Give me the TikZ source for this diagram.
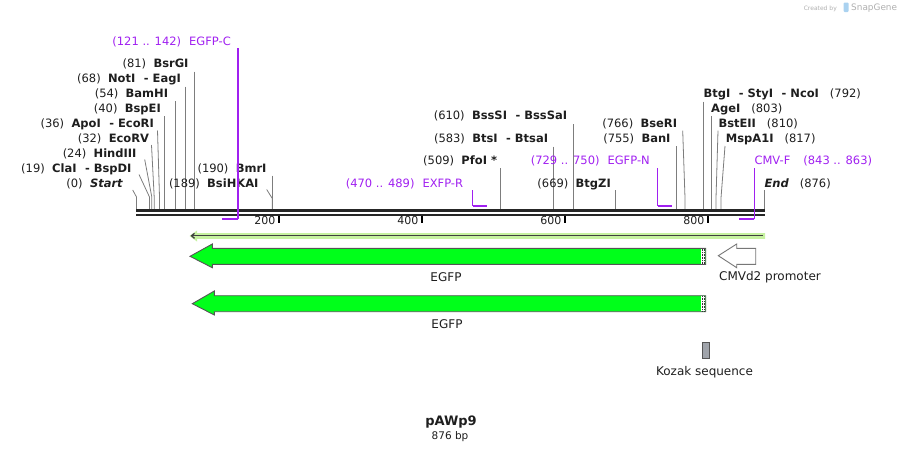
\documentclass[tikz,border=0pt]{standalone}
\usepackage{fontspec}
\setmainfont{DejaVu Sans}
\usetikzlibrary{arrows.meta}
\definecolor{prim}{RGB}{160,32,240}
\definecolor{gfp}{RGB}{0,255,26}
\definecolor{band}{RGB}{198,242,160}
\definecolor{outl}{RGB}{85,85,85}
\definecolor{koz}{RGB}{160,164,171}
\definecolor{stem}{RGB}{125,125,125}
\definecolor{numc}{RGB}{30,30,30}
\definecolor{wmark}{RGB}{175,175,175}
\definecolor{wicon}{RGB}{170,210,240}
\newcommand{\hy}{\hspace{8.5pt}- }
\tikzset{
 lab/.style={inner sep=0pt, font=\fontsize{11.5}{13}\selectfont, text=numc},
 plab/.style={inner sep=0pt, font=\fontsize{11.5}{13}\selectfont, text=prim},
 flab/.style={inner sep=0pt, font=\fontsize{12}{14}\selectfont, text=numc},
 cut/.style={draw=stem, line width=0.8pt},
 primv/.style={draw=prim, line width=1.4pt},
 primh/.style={draw=prim, line width=2.2pt},
 bb/.style={draw=black!85, line width=2.4pt},
 tickmark/.style={draw=black, line width=2pt},
 feat/.style={draw=outl, line width=0.9pt, fill=gfp},
}
% #1 name, #2 label x, #3 label y, #4 anchor, #5 text, #6 start, #7 bend, #8 foot x
\newcommand{\mysite}[8]{%
 \node[lab, anchor=#4] (l#1) at (#2,#3) {#5};
 \coordinate (s#1) at (#6);
 \coordinate (b#1) at (#7);
 \coordinate (f#1) at (#8,209.3);
 \draw[cut] (s#1) -- (b#1) -- (f#1);
}
\begin{document}
\begin{tikzpicture}[x=1pt,y=-1pt]
\useasboundingbox (0,0) rectangle (901,453);
% watermark
\node[inner sep=0, font=\fontsize{6}{7}\selectfont, text=wmark, anchor=mid east] (wm1) at (837,7.5) {Created by};
\fill[wicon, rounded corners=1pt] (843.5,2.5) rectangle (848.5,12);
\node[inner sep=0, font=\fontsize{8.9}{10}\selectfont, text=wmark, anchor=mid west] (wm2) at (851,7.5) {SnapGene};
% cut sites left
\mysite{Start}{123.3}{185}{mid east}{(0)~~\textbf{\textit{Start}}}{132.7,190}{136.5,197}{136.5}
\mysite{ClaI}{131.7}{169.5}{mid east}{(19)~~\textbf{ClaI\hy BspDI}}{139,174.5}{149.5,197}{149.5}
\mysite{Hind}{136.7}{155}{mid east}{(24)~~\textbf{HindIII}}{144.7,159.5}{151.8,197}{151.8}
\mysite{EcoRV}{149.3}{140}{mid east}{(32)~~\textbf{EcoRV}}{151.5,145}{154.2,197}{154.2}
\mysite{ApoI}{154}{125}{mid east}{(36)~~\textbf{ApoI\hy EcoRI}}{157.5,130.5}{159.5,197}{159.5}
\mysite{BspEI}{161}{110}{mid east}{(40)~~\textbf{BspEI}}{164.5,116}{164.5,116}{164.5}
\mysite{BamHI}{168.3}{95}{mid east}{(54)~~\textbf{BamHI}}{175.3,101}{175.3,101}{175.3}
\mysite{NotI}{181}{80}{mid east}{(68)~~\textbf{NotI\hy EagI}}{185.3,86.7}{185.3,86.7}{185.3}
\mysite{BsrGI}{188.7}{65}{mid east}{(81)~~\textbf{BsrGI}}{194.7,71.7}{194.7,71.7}{194.7}
\mysite{BsiHKAI}{258.7}{185}{mid east}{(189)~~\textbf{BsiHKAI}}{266.7,189.5}{272.3,198.5}{272.3}
\mysite{BmrI}{266.7}{170}{mid east}{(190)~~\textbf{BmrI}}{272.3,175.7}{272.3,175.7}{272.3}
% middle
\mysite{PfoI}{497.3}{162}{mid east}{(509)~~\textbf{PfoI *}}{500.7,168.3}{500.7,168.3}{500.7}
\mysite{BtsI}{548.3}{140}{mid east}{(583)~~\textbf{BtsI\hy BtsaI}}{553.3,146.7}{553.3,146.7}{553.3}
\mysite{BssSI}{567.3}{117}{mid east}{(610)~~\textbf{BssSI\hy BssSaI}}{573.3,124}{573.3,124}{573.3}
\mysite{BtgZI}{611}{185}{mid east}{(669)~~\textbf{BtgZI}}{615.3,190}{615.3,190}{615.3}
\mysite{BanI}{670.7}{140}{mid east}{(755)~~\textbf{BanI}}{676.7,146}{676.7,146}{676.7}
\mysite{BseRI}{677.3}{125}{mid east}{(766)~~\textbf{BseRI}}{682.7,130.7}{685,198}{685}
% right
\mysite{BtgI}{703.3}{95}{mid west}{\textbf{BtgI\hy StyI\hy NcoI}~~~(792)}{703.7,101.7}{703.7,101.7}{703.7}
\mysite{AgeI}{711}{110}{mid west}{\textbf{AgeI}~~~(803)}{711.3,116}{711.3,116}{711.3}
\mysite{BstEII}{718.3}{125}{mid west}{\textbf{BstEII}~~~(810)}{718,130.7}{716,198}{716}
\mysite{MspA}{725.7}{140}{mid west}{\textbf{MspA1I}~~~(817)}{725,146}{721,198}{721}
\mysite{End}{764.3}{185}{mid west}{\textbf{\textit{End}}~~~(876)}{764.3,190}{764.3,190}{764.3}
% backbone
\coordinate (bbL1) at (136.3,210.5); \coordinate (bbR1) at (765,210.5);
\coordinate (bbL2) at (136.3,214.8); \coordinate (bbR2) at (765,214.8);
\draw[bb] (bbL1) -- (bbR1);
\draw[bb, line width=2.1pt] (bbL2) -- (bbR2);
% primers
\node[plab, anchor=mid east] (pC) at (231,42.3) {(121 .. 142)\hspace{8pt}EGFP-C};
\coordinate (pC1) at (238,48); \coordinate (pC2) at (238,218.7); \coordinate (pC3) at (222,218.7);
\draw[primv] (pC1) -- (pC2);
\draw[primh] (pC2) -- (pC3);
\node[plab, anchor=mid east] (pR) at (463.3,185) {(470 .. 489)\hspace{8pt}EXFP-R};
\coordinate (pR1) at (472.7,190); \coordinate (pR2) at (472.7,206); \coordinate (pR3) at (486.5,206);
\draw[primv] (pR1) -- (pR2);
\draw[primh] (pR2) -- (pR3);
\node[plab, anchor=mid east] (pN) at (650,161.5) {(729 .. 750)\hspace{8pt}EGFP-N};
\coordinate (pN1) at (657.7,168); \coordinate (pN2) at (657.7,206); \coordinate (pN3) at (671.7,206);
\draw[primv] (pN1) -- (pN2);
\draw[primh] (pN2) -- (pN3);
\node[plab, anchor=mid west] (pF) at (754.3,161.5) {CMV-F\hspace{13pt}(843 .. 863)};
\coordinate (pF1) at (754.3,168); \coordinate (pF2) at (754.3,219); \coordinate (pF3) at (739,219);
\draw[primv] (pF1) -- (pF2);
\draw[primh] (pF2) -- (pF3);
% ticks
\foreach \tx/\tl in {279/200, 422/400, 565/600, 708/800} {
  \draw[tickmark] (\tx,215.5) -- (\tx,222.5);
  \node[lab, font=\fontsize{11}{12}\selectfont, anchor=mid east] (tick\tl) at (\tx-3.5,221.5) {\tl};
}
% feature band
\fill[band] (765,233.2) -- (197,233.2) -- (197,230.5) -- (189.5,236) -- (197,241.5) -- (197,238.8) -- (765,238.8) -- cycle;
\coordinate (fbR) at (763,235.8); \coordinate (fbL) at (190.5,235.8);
\draw[black!75, line width=1.3pt, -{Straight Barb[length=3pt,width=5pt]}] (fbR) -- (fbL);
% EGFP arrows
\draw[feat] (705.7,248.3) -- (212.3,248.3) -- (212.3,244) -- (190,256.3) -- (212.3,267.7) -- (212.3,264.3) -- (705.7,264.3) -- cycle;
\fill[white] (701.2,248.8) rectangle (705.2,263.8);
\draw[black!80, line width=0.6pt, dash pattern=on 0.8pt off 0.8pt] (701.8,248.8) -- (701.8,263.8);
\draw[black!80, line width=0.6pt, dash pattern=on 0.8pt off 0.8pt] (704.2,248.8) -- (704.2,263.8);
\node[flab] (tE1) at (446,277.3) {EGFP};
\draw[feat] (705.7,295.7) -- (214.3,295.7) -- (214.3,291) -- (192.3,303.7) -- (214.3,315) -- (214.3,311.7) -- (705.7,311.7) -- cycle;
\fill[white] (701.2,296.2) rectangle (705.2,311.2);
\draw[black!80, line width=0.6pt, dash pattern=on 0.8pt off 0.8pt] (701.8,296.2) -- (701.8,311.2);
\draw[black!80, line width=0.6pt, dash pattern=on 0.8pt off 0.8pt] (704.2,296.2) -- (704.2,311.2);
\node[flab] (tE2) at (447,324.3) {EGFP};
% CMVd2 promoter
\draw[draw=outl!80, fill=white, line width=0.9pt] (755.7,248.3) -- (736.7,248.3) -- (736.7,244) -- (718.3,255.7) -- (736.7,267.7) -- (736.7,264.3) -- (755.7,264.3) -- cycle;
\node[flab] (tCMV) at (770,277.3) {CMVd2 promoter};
% Kozak
\draw[draw=outl, fill=koz, line width=0.8pt] (702.3,342.3) rectangle (709.3,358.3);
\node[flab] (tKoz) at (704.5,372) {Kozak sequence};
% title
\node[inner sep=0, font=\fontsize{13}{15}\selectfont\bfseries, text=numc] (title) at (451,422.5) {pAWp9};
\node[inner sep=0, font=\fontsize{10.5}{12}\selectfont, text=numc] (len) at (450,437) {876 bp};
\end{tikzpicture}
\end{document}
